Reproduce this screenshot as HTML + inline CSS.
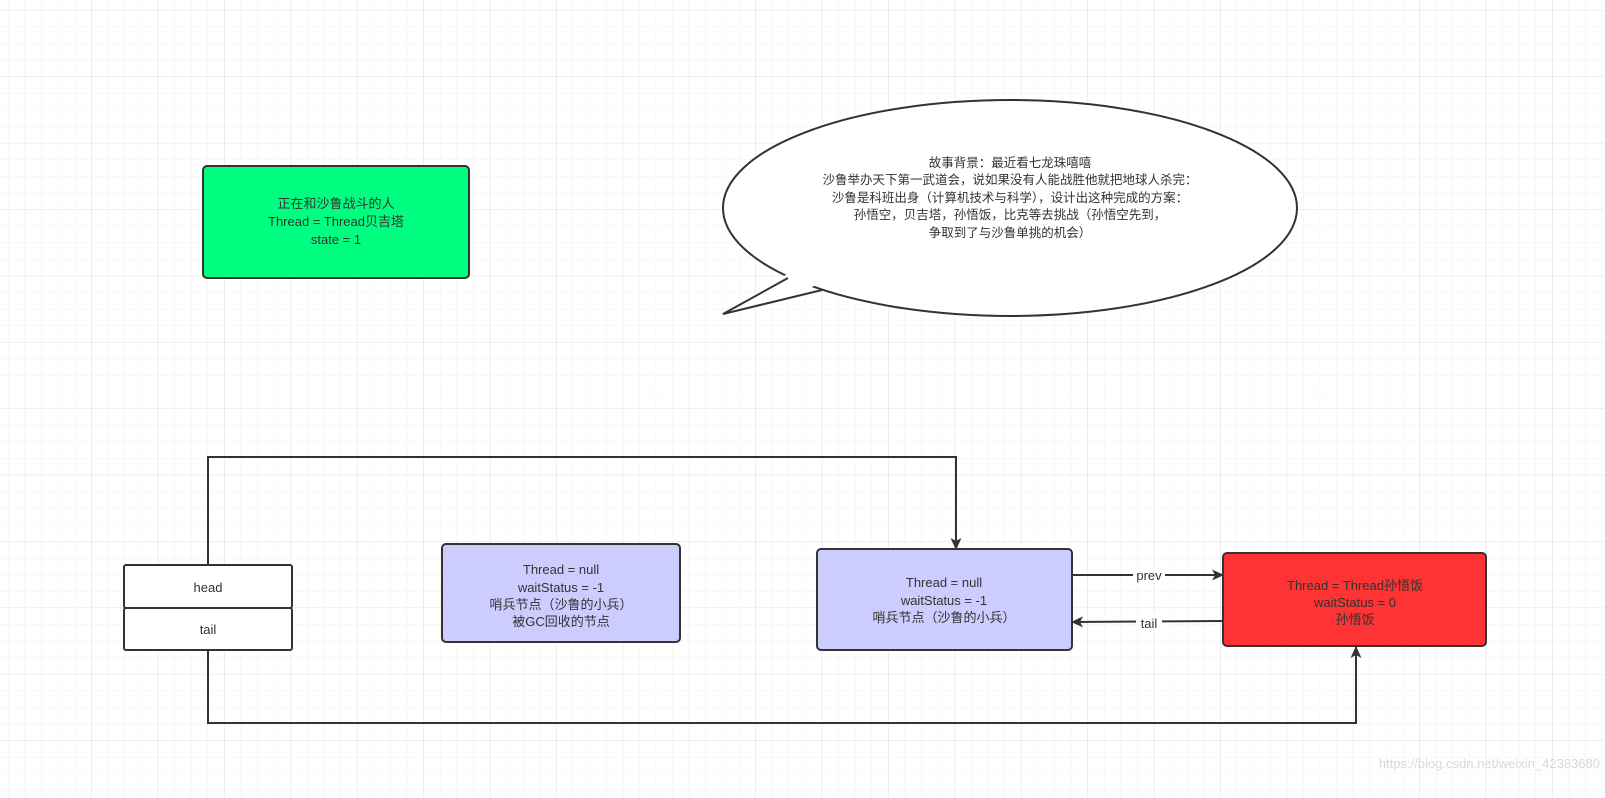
<!DOCTYPE html>
<html><head><meta charset="utf-8"><style>
html,body{margin:0;padding:0;background:#fff;}
svg{display:block;}
text{font-family:"Liberation Sans","Noto Sans CJK SC",sans-serif;font-size:13px;fill:#333;}
</style></head><body>
<svg width="1605" height="798" viewBox="0 0 1605 798" xmlns="http://www.w3.org/2000/svg">
<defs>
<pattern id="minor" x="8.3" y="10" width="16.6" height="16.6" patternUnits="userSpaceOnUse">
<path d="M0 0H16.6M0 0V16.6" stroke="#f0f0f0" stroke-width="1" fill="none"/>
</pattern>
<pattern id="major" x="25" y="10" width="66.4" height="66.4" patternUnits="userSpaceOnUse">
<path d="M0 0H66.4M0 0V66.4" stroke="#e4e4e4" stroke-width="1" fill="none"/>
</pattern>
<marker id="ar" markerWidth="12" markerHeight="12" refX="11" refY="6" orient="auto" markerUnits="userSpaceOnUse">
<path d="M0 0.5L12 6L0 11.5L3 6Z" fill="#333"/>
</marker>
</defs>
<rect width="1605" height="798" fill="#fff"/>
<rect width="1605" height="798" fill="url(#minor)"/>
<rect width="1605" height="798" fill="url(#major)"/>

<!-- green box -->
<rect x="203" y="166" width="266" height="112" rx="4" fill="#00FF80" stroke="#333" stroke-width="2"/>
<text x="336" y="208" text-anchor="middle">正在和沙鲁战斗的人</text>
<text x="336" y="226" text-anchor="middle">Thread = Thread贝吉塔</text>
<text x="336" y="244" text-anchor="middle">state = 1</text>

<!-- callout -->
<ellipse cx="1010" cy="208" rx="287" ry="108" fill="#fff" stroke="#333" stroke-width="2"/>
<polygon points="792,271 723,314 821,284" fill="#fff"/>
<polyline points="788,278 723,314 822,290" fill="none" stroke="#333" stroke-width="2"/>
<text x="1010" y="167" text-anchor="middle" style="font-size:12.5px">故事背景：最近看七龙珠嘻嘻</text>
<text x="1010" y="184" text-anchor="middle" style="font-size:12.5px">沙鲁举办天下第一武道会，说如果没有人能战胜他就把地球人杀完：</text>
<text x="1010" y="202" text-anchor="middle" style="font-size:12.5px">沙鲁是科班出身（计算机技术与科学），设计出这种完成的方案：</text>
<text x="1010" y="219" text-anchor="middle" style="font-size:12.5px">孙悟空，贝吉塔，孙悟饭，比克等去挑战（孙悟空先到，</text>
<text x="1010" y="237" text-anchor="middle" style="font-size:12.5px">争取到了与沙鲁单挑的机会）</text>

<!-- connectors -->
<path d="M208 565 V457 H956 V549" fill="none" stroke="#333" stroke-width="2" marker-end="url(#ar)"/>
<path d="M208 650 V723 H1356 V647" fill="none" stroke="#333" stroke-width="2" marker-end="url(#ar)"/>
<path d="M1072 575 H1223" fill="none" stroke="#333" stroke-width="2" marker-end="url(#ar)"/>
<path d="M1223 621 L1072 622" fill="none" stroke="#333" stroke-width="2" marker-end="url(#ar)"/>
<rect x="1133" y="568" width="32" height="14" fill="#fff"/>
<text x="1149" y="580" text-anchor="middle">prev</text>
<rect x="1136" y="615" width="26" height="14" fill="#fff"/>
<text x="1149" y="628" text-anchor="middle">tail</text>

<!-- head/tail -->
<rect x="124" y="565" width="168" height="43" rx="2" fill="#fff" stroke="#333" stroke-width="2"/>
<rect x="124" y="608" width="168" height="42" rx="2" fill="#fff" stroke="#333" stroke-width="2"/>
<text x="208" y="592" text-anchor="middle">head</text>
<text x="208" y="634" text-anchor="middle">tail</text>

<!-- lavender 1 -->
<rect x="442" y="544" width="238" height="98" rx="4" fill="#CCCCFF" stroke="#333" stroke-width="2"/>
<text x="561" y="574" text-anchor="middle">Thread = null</text>
<text x="561" y="592" text-anchor="middle">waitStatus = -1</text>
<text x="561" y="609" text-anchor="middle">哨兵节点（沙鲁的小兵）</text>
<text x="561" y="626" text-anchor="middle">被GC回收的节点</text>

<!-- lavender 2 -->
<rect x="817" y="549" width="255" height="101" rx="4" fill="#CCCCFF" stroke="#333" stroke-width="2"/>
<text x="944" y="587" text-anchor="middle">Thread = null</text>
<text x="944" y="605" text-anchor="middle">waitStatus = -1</text>
<text x="944" y="622" text-anchor="middle">哨兵节点（沙鲁的小兵）</text>

<!-- red -->
<rect x="1223" y="553" width="263" height="93" rx="4" fill="#FF3333" stroke="#333" stroke-width="2"/>
<text x="1355" y="590" text-anchor="middle">Thread = Thread孙悟饭</text>
<text x="1355" y="607" text-anchor="middle">waitStatus = 0</text>
<text x="1355" y="624" text-anchor="middle">孙悟饭</text>

<text x="1600" y="768" text-anchor="end" style="font-size:13px;fill:#d8d8d8">https://blog.csdn.net/weixin_42383680</text>
</svg>
</body></html>
